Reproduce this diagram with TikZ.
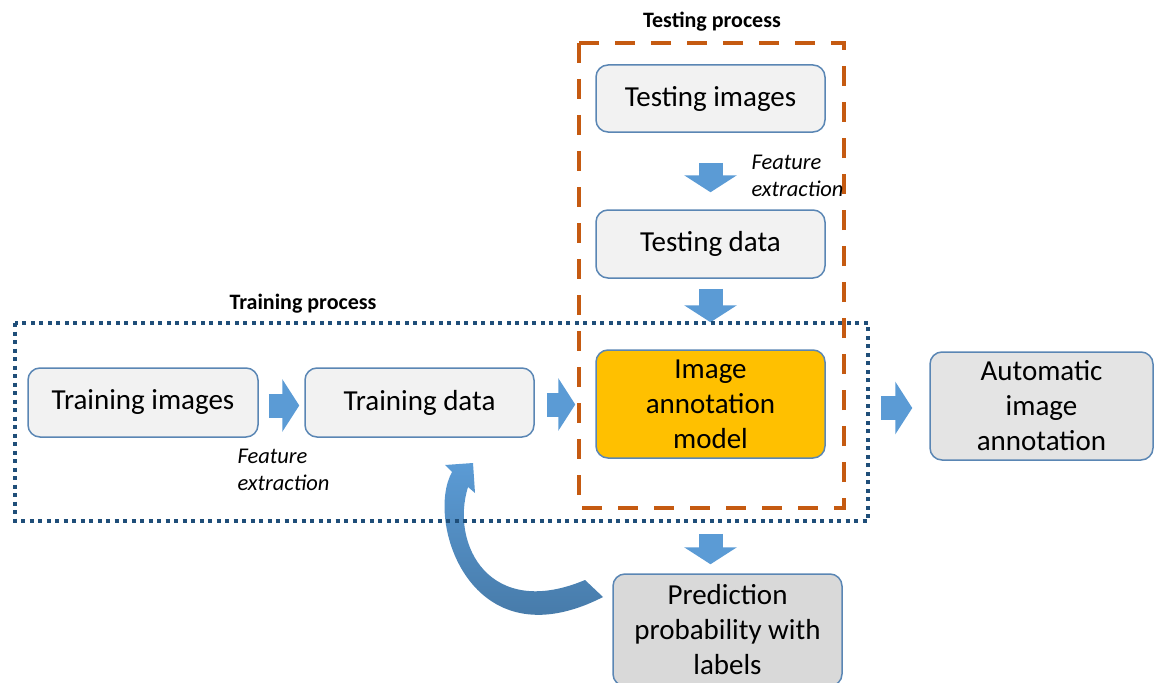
\documentclass[tikz,border=0pt]{standalone}
\usepackage{fontspec}
\setmainfont{Carlito}
\usetikzlibrary{arrows.meta,calc}

\definecolor{arrblue}{HTML}{5B9BD5}
\definecolor{arrdark}{HTML}{41719C}
\definecolor{boxline}{HTML}{5A86B4}
\definecolor{boxlight}{HTML}{F2F2F2}
\definecolor{boxgray}{HTML}{E4E4E4}
\definecolor{boxdark}{HTML}{D9D9D9}
\definecolor{modelfill}{HTML}{FFC000}
\definecolor{testline}{HTML}{C55A11}
\definecolor{trainline}{HTML}{1F4E79}

\begin{document}
\begin{tikzpicture}[x=1pt,y=-1pt,
  box/.style={draw=boxline,line width=1.5pt,rounded corners=12pt,fill=boxlight,
    minimum width=229pt,align=center,font=\fontsize{29}{35}\selectfont},
  blockarr/.style={arrblue,line width=24pt,-{Triangle[width=52pt,length=17pt]}},
  note/.style={anchor=west,align=left,font=\fontsize{22.5}{27}\selectfont\itshape},
  title/.style={font=\fontsize{22}{26}\selectfont\bfseries}]
\useasboundingbox (0,0) rectangle (1155,682);

% process frames
\draw[testline,line width=4pt,dash pattern=on 20pt off 16pt] (579,43) rectangle (844,508);
\node[title] (testlbl) at (712,22) {Testing process};
\node[title] (trainlbl) at (303,304) {Training process};

% boxes
\node[box,minimum height=67pt] (timg) at (710.5,98.5) {Testing images};
\node[box,minimum height=68pt] (tdat) at (710.5,244) {Testing data};
\node[box,minimum height=108pt,fill=modelfill] (model) at (710.5,404) {Image\\annotation\\model};
\node[box,minimum height=69pt,minimum width=230pt] (trimg) at (143,402.5) {Training images};
\node[box,minimum height=69pt] (trdat) at (419.5,402.5) {Training data};
\node[box,minimum height=108pt,minimum width=223pt,fill=boxgray] (auto) at (1041.5,406) {Automatic\\image\\annotation};
\node[box,minimum height=112pt,fill=boxdark] (pred) at (727.5,630) {Prediction\\probability with\\labels};

\node[note] (fxtest) at (748,176) {Feature\\extraction};
\node[note] (fxtrain) at (234,470) {Feature\\extraction};

% block arrows
\draw[blockarr,shorten <=30pt,shorten >=17pt] (timg) -- (tdat);
\draw[blockarr,shorten <=10pt,shorten >=27pt] (tdat) -- (model);
\draw[blockarr,shorten <=10pt,shorten >=5pt] ($(trimg.east)+(0,3)$) -- ($(trdat.west)+(0,3)$);
\draw[blockarr,shorten <=12pt,shorten >=20pt] ($(trdat.east)+(0,2)$) -- ($(trdat.east -| model.west)+(0,2)$);
\draw[blockarr,shorten <=55pt,shorten >=17pt] ($(model.east)+(0,4)$) -- ($(model.east -| auto.west)+(0,4)$);
\draw[blockarr,shorten <=75pt,shorten >=9pt] (model.south) -- (model.south |- pred.north);

% feedback arrow
\shade[top color=arrblue,bottom color=arrdark]
  (603,597) -- (585,580) .. controls (490,620) and (450,545) .. (468,487)
  -- (475,493) -- (473,463) -- (445,465) -- (452,472)
  .. controls (425,520) and (470,665) .. (603,597) -- cycle;

\draw[trainline,line width=4pt,dash pattern=on 4pt off 4.5pt] (15,323) rectangle (868,521);
\end{tikzpicture}
\end{document}
